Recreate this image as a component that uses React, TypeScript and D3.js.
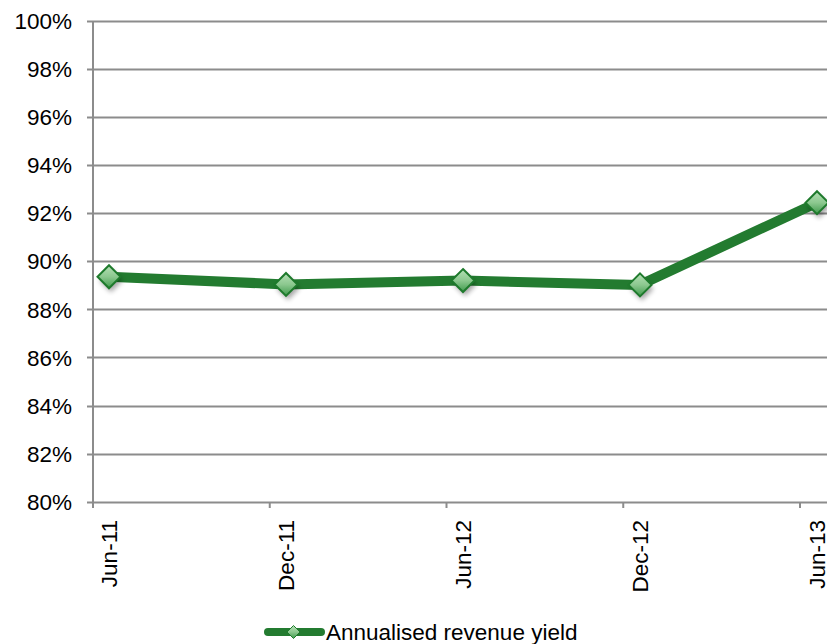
import React from "react";
import * as d3 from "d3";

const categories = ["Jun-11", "Dec-11", "Jun-12", "Dec-12", "Jun-13"];
const values = [89.36, 89.04, 89.2, 89.02, 92.44];
const yTicks = [80, 82, 84, 86, 88, 90, 92, 94, 96, 98, 100];
const seriesName = "Annualised revenue yield";

const W = 827;
const H = 644;
const axisX = 93;
const FONT = "Liberation Sans, Arial, sans-serif";

export default function App() {
  const y = d3.scaleLinear().domain([80, 100]).range([501.7, 21]);
  const xPt = d3.scaleLinear().domain([0, 4]).range([109, 817]);
  const xTick = d3.scaleLinear().domain([0, 4]).range([93, 800]);
  const line = d3
    .line<number>()
    .x((_, i) => xPt(i))
    .y((d) => y(d));
  const green = "#237b30";
  const diamond = (cx: number, cy: number, r: number) =>
    `M${cx},${cy - r}L${cx + r},${cy}L${cx},${cy + r}L${cx - r},${cy}Z`;

  return (
    <svg
      width={W}
      height={H}
      style={{ position: "absolute", left: 0, top: 0, background: "#fff" }}
    >
      <defs>
        <linearGradient id="mk" x1="0" y1="0" x2="0" y2="1">
          <stop offset="0" stopColor="#b5e0b5" />
          <stop offset="0.5" stopColor="#8cc88f" />
          <stop offset="1" stopColor="#3f9a4c" />
        </linearGradient>
        <filter id="sh" x="-50%" y="-50%" width="200%" height="200%">
          <feGaussianBlur stdDeviation="2.5" />
        </filter>
      </defs>
      {yTicks.map((t) => (
        <g key={t}>
          <line
            x1={87}
            x2={W}
            y1={Math.round(y(t)) + 0.5}
            y2={Math.round(y(t)) + 0.5}
            stroke="#8c8c8c"
            strokeWidth={2}
          />
          <text
            x={72}
            y={y(t)}
            dy="0.36em"
            textAnchor="end"
            fontFamily={FONT}
            fontSize={22.5}
            fill="#000"
          >
            {t}%
          </text>
        </g>
      ))}
      <line x1={axisX} x2={axisX} y1={21} y2={508} stroke="#8c8c8c" strokeWidth={2} />
      {categories.map((c, i) => (
        <g key={c}>
          <line
            x1={xTick(i)}
            x2={xTick(i)}
            y1={502}
            y2={508}
            stroke="#8c8c8c"
            strokeWidth={2}
          />
          <text
            transform={`translate(${xPt(i) + 7.5},${520}) rotate(-90)`}
            textAnchor="end"
            fontFamily={FONT}
            fontSize={22.5}
            fill="#000"
          >
            {c}
          </text>
        </g>
      ))}
      <path
        d={line(values) || ""}
        fill="none"
        stroke={green}
        strokeWidth={10}
        strokeLinejoin="round"
      />
      {values.map((v, i) => (
        <g key={i}>
          <path
            d={diamond(xPt(i) + 2, y(v) + 4, 11.5)}
            fill="#000"
            opacity={0.35}
            filter="url(#sh)"
          />
          <path
            d={diamond(xPt(i), y(v), 11.5)}
            fill="url(#mk)"
            stroke="#1e7a2c"
            strokeWidth={2}
          />
        </g>
      ))}
      <line x1={268} x2={321} y1={632} y2={632} stroke={green} strokeWidth={8} strokeLinecap="round" />
      <path d={diamond(293.5, 632, 6.5)} fill="url(#mk)" stroke="#1e7a2c" strokeWidth={1} />
      <text x={326} y={632} dy="0.36em" fontFamily={FONT} fontSize={22.5} fill="#000">
        {seriesName}
      </text>
    </svg>
  );
}
